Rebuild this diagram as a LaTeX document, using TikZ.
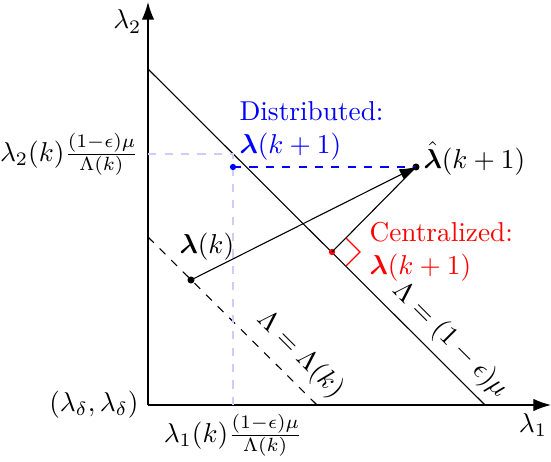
\documentclass[tikz,border=0pt]{standalone}
\usepackage{amsmath,bm}
\usetikzlibrary{arrows.meta}
\begin{document}
\begin{tikzpicture}[x=0.3663pt,y=-0.3663pt,
  axis/.style={line width=0.5pt,-{Latex[length=6.5pt,width=4.6pt]}},
  dot/.style={circle,fill,inner sep=0pt,minimum size=2.6pt},
  guide/.style={dashed,blue!20,line width=0.6pt},
  lbl/.style={inner sep=0pt}]
\useasboundingbox (0,0) rectangle (551,462);
% axes
\coordinate (O) at (148,405);
\coordinate (Ytip) at (148,2);
\coordinate (Xtip) at (551,405);
\draw[axis] (O) -- (Ytip);
\draw[axis] (O) -- (Xtip);
% constraint lines
\coordinate (A) at (148,69);
\coordinate (B) at (485,405);
\coordinate (C) at (148,237);
\coordinate (D) at (317,405);
\draw (A) -- (B);
\draw[dashed] (C) -- (D);
% guides
\coordinate (G1) at (233,405);
\coordinate (G2) at (233,154);
\coordinate (G3) at (148,154);
\draw[guide] (G1) -- (G2) -- (G3);
% points
\node[dot] (lk) at (191,280) {};
\node[dot] (lh) at (416,167) {};
\node[dot,blue,minimum size=2.3pt] (ld) at (233,167) {};
\node[dot,red,minimum size=2.3pt] (lc) at (332,252) {};
% connectors
\draw[blue,dashed] (ld.center) -- (lh.center);
\draw (lc.center) -- (lh.center);
\draw[-{Latex[length=6pt,width=4.2pt]}] (lk.center) -- (lh.center);
% right angle mark
\draw[red] ([shift={(14,-14)}]lc.center) -- ++(14,14) -- ++(-14,14);
% labels
\node[lbl,anchor=base east] at (142,29) {$\lambda_2$};
\node[lbl,anchor=base] at (533,432) {$\lambda_1$};
\node[lbl,anchor=east] at (139,405) {$(\lambda_\delta,\lambda_\delta)$};
\node[lbl,anchor=base east] at (139,161) {$\lambda_2(k)\frac{(1-\epsilon)\mu}{\Lambda(k)}$};
\node[lbl,anchor=base] at (233,442) {$\lambda_1(k)\frac{(1-\epsilon)\mu}{\Lambda(k)}$};
\node[lbl,anchor=base west] at (179,253) {$\bm{\lambda}(k)$};
\node[lbl,anchor=base west] at (423,168) {$\hat{\bm{\lambda}}(k+1)$};
\node[lbl,anchor=north west,align=left,text=blue] at (239,101) {Distributed:\\$\bm{\lambda}(k+1)$};
\node[lbl,anchor=north west,align=left,text=red] at (369,222) {Centralized:\\$\bm{\lambda}(k+1)$};
\node[lbl,rotate=-45] at (300,355) {$\Lambda=\Lambda(k)$};
\node[lbl,rotate=-45] at (450,340) {$\Lambda=(1-\epsilon)\mu$};
\end{tikzpicture}
\end{document}
